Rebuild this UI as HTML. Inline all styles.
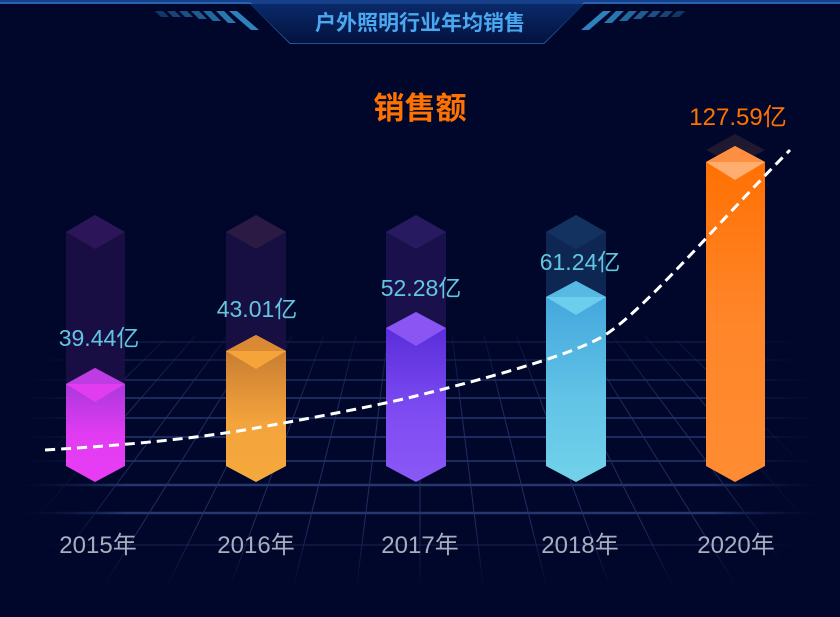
<!DOCTYPE html>
<html><head><meta charset="utf-8"><style>
html,body{margin:0;padding:0;background:#00072a;}
svg{display:block}
text{font-family:"Liberation Sans","Noto Sans CJK SC",sans-serif}
</style></head><body>
<svg width="840" height="617" viewBox="0 0 840 617" xmlns="http://www.w3.org/2000/svg">
<defs>
<linearGradient id="g1" x1="0" y1="0" x2="0" y2="1"><stop offset="0" stop-color="#9a36d6"/><stop offset="0.6" stop-color="#e23cf2"/><stop offset="1" stop-color="#e83cf5"/></linearGradient>
<linearGradient id="g2" x1="0" y1="0" x2="0" y2="1"><stop offset="0" stop-color="#c07430"/><stop offset="0.6" stop-color="#f4a43c"/><stop offset="1" stop-color="#f5a83c"/></linearGradient>
<linearGradient id="g3" x1="0" y1="0" x2="0" y2="1"><stop offset="0" stop-color="#5228d6"/><stop offset="0.6" stop-color="#7e4cf2"/><stop offset="1" stop-color="#8a58f6"/></linearGradient>
<linearGradient id="g4" x1="0" y1="0" x2="0" y2="1"><stop offset="0" stop-color="#3fa3dc"/><stop offset="0.6" stop-color="#62c4e6"/><stop offset="1" stop-color="#72d2ea"/></linearGradient>
<linearGradient id="g5" x1="0" y1="0" x2="0" y2="1"><stop offset="0" stop-color="#ff6e00"/><stop offset="0.5" stop-color="#ff8528"/><stop offset="1" stop-color="#ff8c32"/></linearGradient>
<linearGradient id="hdr" x1="0" y1="0" x2="0" y2="1"><stop offset="0" stop-color="#0a2a6a"/><stop offset="1" stop-color="#04123e"/></linearGradient>
<linearGradient id="hfade" x1="0" y1="0" x2="1" y2="0"><stop offset="0" stop-color="#000" stop-opacity="0"/><stop offset="0.15" stop-color="#fff"/><stop offset="0.85" stop-color="#fff"/><stop offset="1" stop-color="#000" stop-opacity="0"/></linearGradient>
<linearGradient id="vfade" x1="0" y1="0" x2="0" y2="1"><stop offset="0" stop-color="#fff" stop-opacity="0.2"/><stop offset="0.3" stop-color="#fff" stop-opacity="0.9"/><stop offset="0.75" stop-color="#fff" stop-opacity="0.9"/><stop offset="1" stop-color="#fff" stop-opacity="0"/></linearGradient>
<mask id="m1"><rect x="0" y="330" width="840" height="270" fill="url(#hfade)"/></mask>
<mask id="m2"><rect x="0" y="330" width="840" height="260" fill="url(#vfade)"/></mask>
</defs>
<rect width="840" height="617" fill="#00072a"/>
<!-- header -->
<rect x="0" y="0" width="840" height="4" fill="#16408a"/>
<path d="M0 3 H250 L290 43 H544 L584 3 H840" fill="none" stroke="#2c6cc0" stroke-width="1.5"/>
<path d="M250 4 L290 43 H544 L584 4 Z" fill="url(#hdr)"/>
<g fill="#3aa0e0" opacity="0.8">
<path d="M155 11h8l6 6h-8z" opacity="0.4"/><path d="M167 11h8l6 6h-8z" opacity="0.5"/><path d="M179 11h8l6 6h-8z" opacity="0.6"/><path d="M191 11h8l8 8h-8z" opacity="0.7"/><path d="M203 11h8l10 10h-8z" opacity="0.8"/><path d="M216 11h8l12 12h-8z" opacity="0.9"/><path d="M229 11h8l22 19h-8z"/>
<path d="M685 11h-8l-6 6h8z" opacity="0.4"/><path d="M673 11h-8l-6 6h8z" opacity="0.5"/><path d="M661 11h-8l-6 6h8z" opacity="0.6"/><path d="M649 11h-8l-8 8h8z" opacity="0.7"/><path d="M637 11h-8l-10 10h8z" opacity="0.8"/><path d="M624 11h-8l-12 12h8z" opacity="0.9"/><path d="M611 11h-8l-22 19h8z"/>
</g>
<text x="420" y="30" text-anchor="middle" font-size="21" fill="#4aa8f0" font-weight="bold">户外照明行业年均销售</text>
<text x="420" y="119" text-anchor="middle" font-size="31" fill="#ff7200" font-weight="bold">销售额</text>
<!-- floor grid -->
<g mask="url(#m1)">
<g stroke="#26376f" stroke-width="1.5" fill="none">
<line x1="0" y1="342" x2="840" y2="342" opacity="0.4"/>
<line x1="0" y1="360" x2="840" y2="360" opacity="0.5"/>
<line x1="0" y1="380" x2="840" y2="380" opacity="0.8"/>
<line x1="0" y1="398" x2="840" y2="398"/>
<line x1="0" y1="418" x2="840" y2="418"/>
<line x1="0" y1="437" x2="840" y2="437"/>
<line x1="0" y1="461" x2="840" y2="461"/>
<line x1="0" y1="485" x2="840" y2="485" stroke-width="2.5"/>
<line x1="0" y1="513" x2="840" y2="513" stroke-width="2.5"/>
<line x1="0" y1="545" x2="840" y2="545" opacity="0.4"/>
</g>
<g stroke="#223268" stroke-width="1" mask="url(#m2)">
<line x1="420" y1="335" x2="420" y2="600"/>
<line x1="452" y1="335" x2="485" y2="600"/><line x1="388" y1="335" x2="355" y2="600"/>
<line x1="484" y1="335" x2="550" y2="600"/><line x1="356" y1="335" x2="290" y2="600"/>
<line x1="516" y1="335" x2="615" y2="600"/><line x1="324" y1="335" x2="225" y2="600"/>
<line x1="548" y1="335" x2="680" y2="600"/><line x1="292" y1="335" x2="160" y2="600"/>
<line x1="580" y1="335" x2="745" y2="600"/><line x1="260" y1="335" x2="95" y2="600"/>
<line x1="612" y1="335" x2="810" y2="600"/><line x1="228" y1="335" x2="30" y2="600"/>
<line x1="644" y1="335" x2="875" y2="600"/><line x1="196" y1="335" x2="-35" y2="600"/>
<line x1="676" y1="340" x2="940" y2="600"/><line x1="164" y1="340" x2="-100" y2="600"/>
</g>
</g>
<!-- background prisms -->
<g>
<path d="M66 232 L95 215 L125 232 V395 H66Z" fill="#1c1046" opacity="0.9"/>
<path d="M66 232 L95 215 L125 232 L95 249Z" fill="#2c1558"/>
<path d="M226 232 L256 215 L286 232 V360 H226Z" fill="#1a1044" opacity="0.9"/>
<path d="M226 232 L256 215 L286 232 L256 249Z" fill="#2a1a44"/>
<path d="M386 232 L416 215 L446 232 V330 H386Z" fill="#1c1250" opacity="0.9"/>
<path d="M386 232 L416 215 L446 232 L416 249Z" fill="#281a60"/>
<path d="M546 232 L576 215 L606 232 V300 H546Z" fill="#0e2652"/>
<path d="M546 232 L576 215 L606 232 L576 249Z" fill="#143260"/>
<path d="M706 150 L735 134 L765 150 L735 166Z" fill="#1e1830"/>
</g>
<!-- bars -->
<path d="M66 384 L95 368 L125 384 V466 L95 482 L66 466Z" fill="url(#g1)"/>
<path d="M66 384 L95 368 L125 384 L95 402Z" fill="#e23cf0"/>
<path d="M66 384 L95 368 L125 384 Z" fill="#a83ad8" opacity="0.6"/>
<path d="M226 351 L256 335 L286 351 V466 L256 482 L226 466Z" fill="url(#g2)"/>
<path d="M226 351 L256 335 L286 351 L256 369Z" fill="#f5a43a"/>
<path d="M226 351 L256 335 L286 351 Z" fill="#c87830" opacity="0.6"/>
<path d="M386 328 L416 312 L446 328 V466 L416 482 L386 466Z" fill="url(#g3)"/>
<path d="M386 328 L416 312 L446 328 L416 346Z" fill="#8a55f2"/>
<path d="M546 297 L576 281 L606 297 V466 L576 482 L546 466Z" fill="url(#g4)"/>
<path d="M546 297 L576 281 L606 297 L576 315Z" fill="#6ccdec"/>
<path d="M546 297 L576 281 L606 297 Z" fill="#48aee0" opacity="0.6"/>
<path d="M706 162 L735 146 L765 162 V466 L735 482 L706 466Z" fill="url(#g5)"/>
<path d="M706 162 L735 146 L765 162 L735 180Z" fill="#ffae70"/>
<path d="M706 162 L735 146 L765 162 Z" fill="#ff7a20" opacity="0.6"/>
<!-- trend -->
<path d="M45 450 C 130 445, 200 438, 256 428 S 380 405, 416 396 S 560 360, 600 338 S 720 220, 790 150" fill="none" stroke="#fff" stroke-width="3" stroke-dasharray="10 6"/>
<!-- labels -->
<g font-size="23" fill="#62c6e0" text-anchor="middle">
<text x="99" y="346">39.44亿</text>
<text x="257" y="317">43.01亿</text>
<text x="421" y="296">52.28亿</text>
<text x="580" y="270">61.24亿</text>
</g>
<text x="738" y="125" text-anchor="middle" font-size="24" fill="#ff7200">127.59亿</text>
<g font-size="24" fill="#a8aec0" text-anchor="middle">
<text x="98" y="553">2015年</text>
<text x="256" y="553">2016年</text>
<text x="420" y="553">2017年</text>
<text x="580" y="553">2018年</text>
<text x="736" y="553">2020年</text>
</g>
</svg>
</body></html>
